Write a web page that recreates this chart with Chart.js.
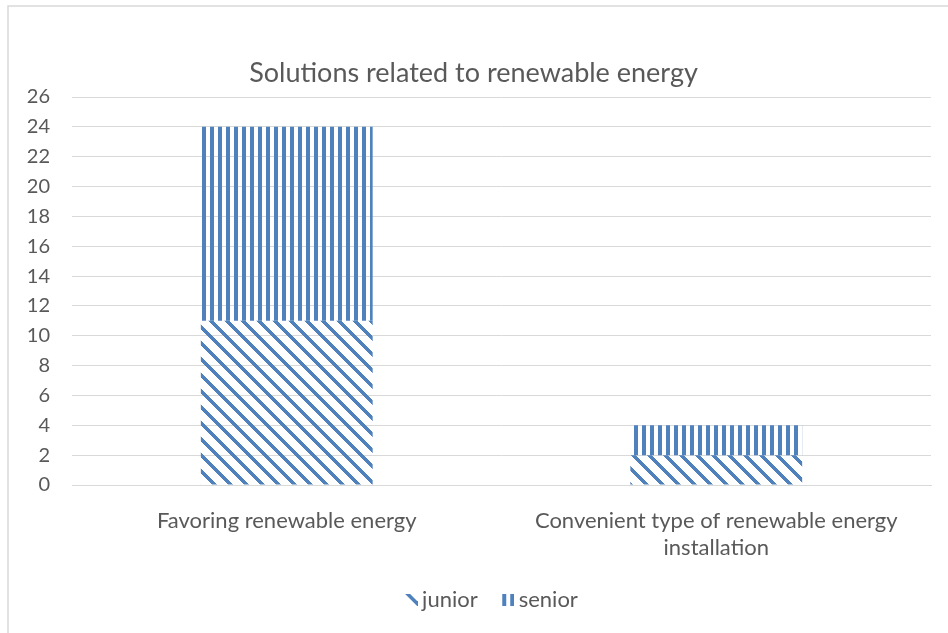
<!DOCTYPE html>
<html>
<head>
<meta charset="utf-8">
<script src="https://cdn.jsdelivr.net/npm/chart.js@4.4.0/dist/chart.umd.min.js"></script>
<style>
  body { margin: 0; background: #fff; }
</style>
</head>
<body>
<canvas id="chart" width="948" height="633"></canvas>
<script>
var categories = ["Favoring renewable energy", ["Convenient type of renewable energy", "installation"]];
var juniorValues = [11, 2];
var seniorValues = [13, 2];
var seriesNames = ["junior", "senior"];
var yMin = 0;
var yMax = 26;
var yStep = 2;

var blue = "#4F81BD";
var textColor = "#595959";
var gridColor = "#d9d9d9";
var fontName = "Lato, 'Open Sans', sans-serif";

// vertical stripes, 8px period
function verticalTile() {
    var c = document.createElement("canvas");
    c.width = 8; c.height = 8;
    var x = c.getContext("2d");
    x.fillStyle = blue;
    x.fillRect(2, 0, 4, 8);
    return c;
}

// downward diagonal stripes "\", 16px period
function diagonalTile() {
    var c = document.createElement("canvas");
    c.width = 16; c.height = 16;
    var x = c.getContext("2d");
    x.fillStyle = blue;
    for (var row = 0; row < 16; row++) {
        for (var k = 0; k < 5; k++) {
            x.fillRect((row + k) % 16, row, 1, 1);
        }
    }
    return c;
}

// legend marker: mark sits on the right side of a wider transparent canvas
function makeIcon(tile, ox) {
    var c = document.createElement("canvas");
    c.width = 23; c.height = 12;
    var x = c.getContext("2d");
    x.translate(11 - ox, 0);
    x.fillStyle = x.createPattern(tile, "repeat");
    x.fillRect(ox, 0, 12, 12);
    return c;
}

var canvas = document.getElementById("chart");
var ctx = canvas.getContext("2d");
var vTile = verticalTile();
var dTile = diagonalTile();
var seniorFill = ctx.createPattern(vTile, "repeat");
var juniorFill = ctx.createPattern(dTile, "repeat");
var juniorIcon = makeIcon(dTile, 0);
var seniorIcon = makeIcon(vTile, 2);

var framePlugin = {
    id: "frame",
    beforeDraw: function (chart) {
        var c = chart.ctx;
        c.save();
        c.fillStyle = "#fff";
        c.fillRect(0, 0, chart.width, chart.height);
        c.strokeStyle = gridColor;
        c.lineWidth = 1.5;
        c.strokeRect(8, 6, chart.width + 20, chart.height + 20);
        c.restore();
    },
    // nudge title and legend sideways like the original
    afterLayout: function (chart) {
        if (chart.titleBlock) { chart.titleBlock.left += 8; chart.titleBlock.right += 8; }
        if (chart.legend) { chart.legend.left += 24; chart.legend.right += 24; }
    }
};

new Chart(canvas, {
    type: "bar",
    data: {
        labels: categories,
        datasets: [
            {
                label: seriesNames[0],
                data: juniorValues,
                backgroundColor: juniorFill,
                borderWidth: 0,
                categoryPercentage: 0.4,
                barPercentage: 1
            },
            {
                label: seriesNames[1],
                data: seniorValues,
                backgroundColor: seniorFill,
                borderWidth: 0,
                categoryPercentage: 0.4,
                barPercentage: 1
            }
        ]
    },
    options: {
        responsive: false,
        animation: false,
        layout: { padding: { left: 0, right: 17, top: 0, bottom: 12 } },
        plugins: {
            title: {
                display: true,
                text: "Solutions related to renewable energy",
                color: textColor,
                font: { family: fontName, size: 27, weight: "normal" },
                padding: { top: 56.8, bottom: 7.8 }
            },
            legend: {
                position: "bottom",
                labels: {
                    color: textColor,
                    font: { family: fontName, size: 22 },
                    usePointStyle: true,
                    boxWidth: 10,
                    padding: 20,
                    generateLabels: function (chart) {
                        var items = Chart.defaults.plugins.legend.labels.generateLabels(chart);
                        items[0].pointStyle = juniorIcon;
                        items[1].pointStyle = seniorIcon;
                        return items;
                    }
                }
            },
            tooltip: { enabled: false }
        },
        scales: {
            x: {
                stacked: true,
                afterFit: function (scale) { scale.height = 84; },
                grid: { display: false },
                border: { display: true, color: gridColor, width: 1 },
                ticks: {
                    color: textColor,
                    font: { family: fontName, size: 22, lineHeight: 1.2 },
                    padding: 15,
                    maxRotation: 0
                }
            },
            y: {
                stacked: true,
                min: yMin,
                max: yMax,
                afterFit: function (scale) { scale.width = 72; },
                grid: { color: gridColor, lineWidth: 1, drawTicks: false },
                border: { display: false },
                ticks: {
                    stepSize: yStep,
                    color: textColor,
                    font: { family: fontName, size: 20 },
                    padding: 22
                }
            }
        }
    },
    plugins: [framePlugin]
});
</script>
</body>
</html>
